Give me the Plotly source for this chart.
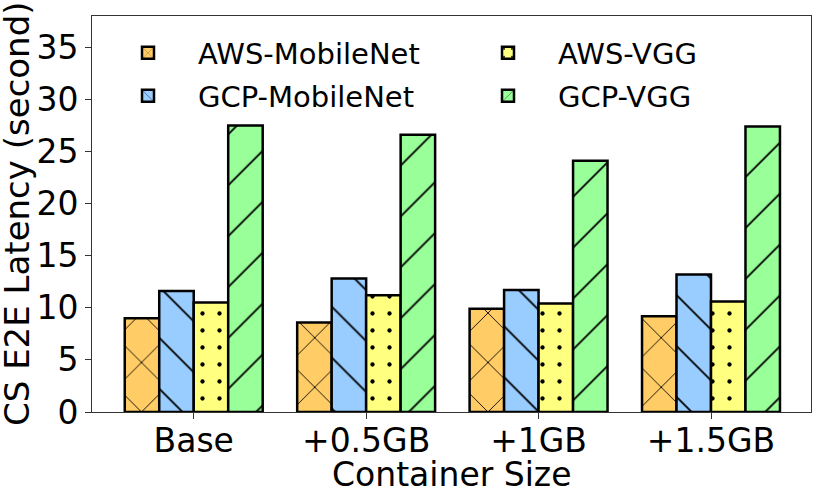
import plotly.graph_objects as go

categories = ["Base", "+0.5GB", "+1GB", "+1.5GB"]
aws_mobilenet = [9.0, 8.6, 9.9, 9.2]
gcp_mobilenet = [11.6, 12.8, 11.7, 13.2]
aws_vgg = [10.5, 11.2, 10.4, 10.6]
gcp_vgg = [27.5, 26.6, 24.1, 27.4]

series = [
    ("AWS-MobileNet", aws_mobilenet, "#FFCC66", "x", 35, 0.05, "legend"),
    ("GCP-MobileNet", gcp_mobilenet, "#99CCFF", "\\", 36, 0.05, "legend2"),
    ("AWS-VGG", aws_vgg, "#FFFF80", ".", 17, 0.05, "legend3"),
    ("GCP-VGG", gcp_vgg, "#99FF99", "/", 36, 0.05, "legend4"),
]

FONT = "DejaVu Sans"
W, H = 814, 497
L, R, T, B = 92, 3, 16, 85
PW, PH = W - L - R, H - T - B

fig = go.Figure()
for name, vals, color, shape, psize, sol, lg in series:
    fig.add_trace(go.Bar(
        name=name, x=categories, y=vals, legend=lg, showlegend=True,
        marker=dict(
            color=color,
            line=dict(color="black", width=2.5),
            pattern=dict(shape=shape, size=psize, solidity=sol,
                         fgcolor="black", bgcolor=color, fillmode="replace"),
        ),
    ))

def lg_pos(px, py):
    return dict(x=(px - L) / PW, y=(H - B - py) / PH, xref="paper", yref="paper",
                xanchor="left", yanchor="middle", bgcolor="rgba(0,0,0,0)",
                font=dict(family=FONT, size=29, color="black"),
                itemwidth=90, visible=True)

fig.update_layout(
    width=W, height=H,
    margin=dict(l=L, r=R, t=T, b=B, autoexpand=False),
    paper_bgcolor="white", plot_bgcolor="white",
    showlegend=True,
    barmode="group", bargap=0.2, bargroupgap=0,
    font=dict(family=FONT, color="black"),
    legend=lg_pos(98, 53),
    legend2=lg_pos(98, 96),
    legend3=lg_pos(458, 53),
    legend4=lg_pos(458, 96),
    xaxis=dict(
        range=[-0.59, 3.58], showline=True, mirror=True, linecolor="#333",
        linewidth=1, ticks="outside", ticklen=6, tickcolor="#333",
        tickfont=dict(family=FONT, size=33, color="black"),
        ticklabelstandoff=-7,
        showgrid=False, zeroline=False, automargin=False,
    ),
    yaxis=dict(
        range=[0, 38], dtick=5, tick0=0, showline=True, mirror=True,
        linecolor="#333", linewidth=1, ticks="outside", ticklen=6,
        tickcolor="#333",
        tickfont=dict(family=FONT, size=33, color="black"),
        showgrid=False, zeroline=False, automargin=False,
    ),
    annotations=[
        dict(text="Container Size", xref="paper", yref="paper",
             x=0.5, y=(H - B - 474) / PH, xanchor="center", yanchor="middle",
             showarrow=False, font=dict(family=FONT, size=33, color="black")),
        dict(text="CS E2E Latency (second)", xref="paper", yref="paper",
             x=(17 - L) / PW, y=0.5, xanchor="center", yanchor="middle",
             textangle=-90, showarrow=False,
             font=dict(family=FONT, size=34, color="black")),
    ],
)

fig.write_html("out.html", config={"displayModeBar": False},
               post_script="document.body.style.margin='0';")
